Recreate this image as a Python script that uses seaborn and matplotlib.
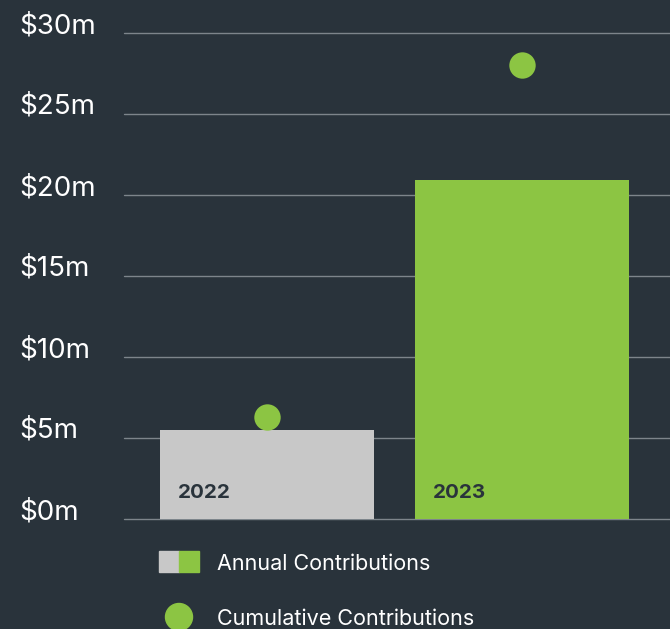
import matplotlib
matplotlib.use("Agg")
import matplotlib.pyplot as plt
import matplotlib.transforms as mtransforms
from matplotlib.patches import Rectangle, Circle
import seaborn as sns
import pandas as pd

years = ["2022", "2023"]
annual = [5.5, 20.9]
cumulative = [6.3, 28.0]
ytick_values = [0, 5, 10, 15, 20, 25, 30]
ytick_labels = ["$0m", "$5m", "$10m", "$15m", "$20m", "$25m", "$30m"]
legend_labels = ["Annual Contributions", "Cumulative Contributions"]

BG = "#29333b"
GREEN = "#8cc543"
GRAY = "#c8c8c8"
GRID = "#7d858b"

sns.set_theme(style="dark")
plt.rcParams["font.family"] = ["Inter", "DejaVu Sans"]

fig = plt.figure(figsize=(6.7, 6.29), dpi=100, facecolor=BG)
ax = fig.add_axes([124 / 670, 110 / 629, 546 / 670, 486 / 629])
ax.set_facecolor(BG)

df = pd.DataFrame({"year": years, "annual": annual, "cumulative": cumulative})
sns.barplot(data=df, x="year", y="annual", hue="year",
            palette={"2022": GRAY, "2023": GREEN}, width=0.84,
            legend=False, ax=ax, saturation=1, linewidth=0, zorder=3)
sns.stripplot(data=df, x="year", y="cumulative", jitter=False, color=GREEN,
              size=19, linewidth=0, ax=ax, zorder=4)

ax.set_xlim(-0.56, 1.58)
ax.set_ylim(0, 30)
ax.set_yticks(ytick_values)
ax.set_yticklabels(ytick_labels, fontsize=20, color="white", ha="left")
ax.tick_params(axis="y", length=0, pad=105 * 0.72)
offset = mtransforms.ScaledTranslation(0, 10 / 100, fig.dpi_scale_trans)
for lab in ax.get_yticklabels():
    lab.set_transform(lab.get_transform() + offset)
ax.set_xticks([])
ax.set_xlabel("")
ax.set_ylabel("")
for s in ax.spines.values():
    s.set_visible(False)
ax.yaxis.grid(True, color=GRID, linewidth=1)
ax.xaxis.grid(False)
for gl in ax.get_ygridlines():
    gl.set_clip_on(False)
ax.set_axisbelow(True)

for i, y in enumerate(years):
    ax.text(i - 0.349, 1.6, y, fontsize=14.8, fontweight="bold",
            color=BG, ha="left", va="center", zorder=5)

# legend
W, H = 670, 629
fig.patches.append(Rectangle((159 / W, 1 - 572 / H), 20 / W, 21 / H,
                             transform=fig.transFigure, color=GRAY))
fig.patches.append(Rectangle((179 / W, 1 - 572 / H), 20 / W, 21 / H,
                             transform=fig.transFigure, color=GREEN))
fig.text(217 / W, 1 - 564 / H, legend_labels[0], fontsize=15.5,
         color="white", ha="left", va="center")
ax2 = fig.add_axes([0, 0, 1, 1], facecolor="none")
ax2.set_xlim(0, W)
ax2.set_ylim(H, 0)
ax2.axis("off")
ax2.add_patch(Circle((179, 617), 13.5, color=GREEN))
fig.text(217 / W, 1 - 619 / H, legend_labels[1], fontsize=15.5,
         color="white", ha="left", va="center")

fig.savefig("out.png", dpi=100, facecolor=BG)
